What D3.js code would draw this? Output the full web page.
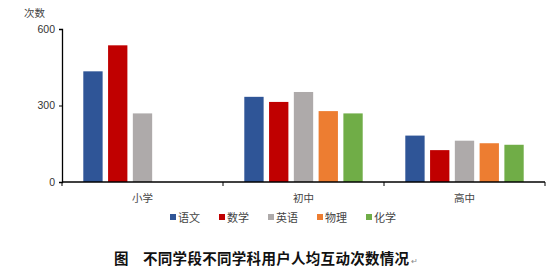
<!DOCTYPE html>
<html><head><meta charset="utf-8">
<script src="https://cdn.jsdelivr.net/npm/d3@7"></script>
<style>body{margin:0;background:#fff}svg{display:block}</style>
</head><body>
<script>
const categories = ["小学", "初中", "高中"];
const subjects = ["语文", "数学", "英语", "物理", "化学"];
const yuwen = [434, 334, 182];
const shuxue = [536, 314, 125];
const yingyu = [269, 353, 162];
const wuli = [null, 278, 152];
const huaxue = [null, 269, 146];
const yTicks = [0, 300, 600];
const colors = ["#2F5597", "#C00000", "#AEAAAA", "#ED7D31", "#70AD47"];
const seriesVals = [yuwen, shuxue, yingyu, wuli, huaxue];

const W = 554, H = 277;
const svg = d3.select("body").append("svg").attr("width", W).attr("height", H);
const font = "'Liberation Sans', Arial, 'Noto Sans CJK SC', sans-serif";
const cjk = "'Noto Sans CJK SC', sans-serif";

const x0 = d3.scaleBand().domain(categories).range([62, 545]).paddingInner(0).paddingOuter(0);
const x1 = d3.scaleBand().domain(subjects).range([0, x0.bandwidth()]).paddingOuter(0.86).paddingInner(0.22);
const y = d3.scaleLinear().domain([0, 600]).range([182, 29]);

// bars
const g = svg.append("g");
categories.forEach((c, i) => {
  subjects.forEach((s, j) => {
    const v = seriesVals[j][i];
    if (v == null) return;
    g.append("rect")
      .attr("x", x0(c) + x1(s))
      .attr("y", y(v))
      .attr("width", x1.bandwidth())
      .attr("height", y(0) - y(v))
      .attr("fill", colors[j]);
  });
});

// y axis
const yAx = svg.append("g").attr("transform", "translate(62,0)")
  .call(d3.axisLeft(y).tickValues(yTicks).tickSize(3).tickPadding(4).tickFormat(d3.format("d")));
yAx.select(".domain").attr("stroke", "#000").attr("stroke-width", 1.3);
yAx.selectAll(".tick line").attr("stroke", "#000");
yAx.selectAll("text").attr("font-family", font).attr("font-size", 10.5).attr("fill", "#333");

// x axis
const xAx = svg.append("g").attr("transform", "translate(0,182)");
xAx.append("line").attr("x1", 62).attr("x2", 545).attr("stroke", "#000").attr("stroke-width", 1.3);
const bounds = categories.map(c => x0(c)).concat([x0(categories[categories.length-1]) + x0.bandwidth()]);
xAx.selectAll(".bt").data(bounds).join("line")
  .attr("x1", d => d).attr("x2", d => d).attr("y1", 0).attr("y2", 4).attr("stroke", "#000");
xAx.selectAll(".cl").data(categories).join("text")
  .attr("x", d => x0(d) + x0.bandwidth() / 2).attr("y", 20)
  .attr("text-anchor", "middle").attr("font-family", cjk).attr("font-size", 10.5).attr("fill", "#444")
  .text(d => d);

// y title
svg.append("text").attr("x", 24).attr("y", 17).attr("font-family", cjk).attr("font-size", 10.5)
  .attr("fill", "#444").text("次数");

// legend
const lg = svg.append("g").attr("transform", "translate(170,218)");
subjects.forEach((s, j) => {
  const it = lg.append("g").attr("transform", `translate(${j * 49},0)`);
  it.append("rect").attr("x", 0).attr("y", -4).attr("width", 6).attr("height", 6).attr("fill", colors[j]);
  it.append("text").attr("x", 8).attr("y", 3.5).attr("font-family", cjk).attr("font-size", 11)
    .attr("fill", "#444").text(s);
});

// caption
const cap = svg.append("g").attr("font-family", cjk).attr("font-weight", "bold").attr("fill", "#111");
cap.append("text").attr("x", 114).attr("y", 264).attr("font-size", 14.5).text("图");
cap.append("text").attr("x", 143).attr("y", 264).attr("font-size", 14.5).attr("letter-spacing", 0.3)
  .text("不同学段不同学科用户人均互动次数情况");
cap.append("text").attr("x", 411).attr("y", 264).attr("font-size", 8).attr("font-weight", "normal")
  .attr("fill", "#888").text("↵");
</script>
</body></html>
